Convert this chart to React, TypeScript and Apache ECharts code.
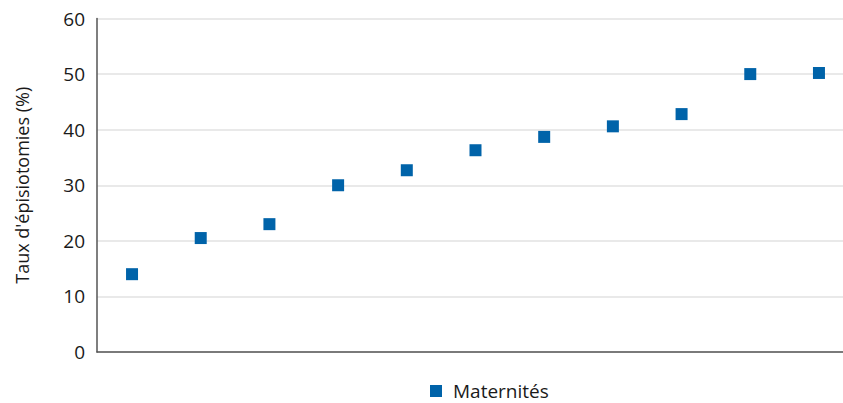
import React, { useEffect, useRef } from "react";
import * as echarts from "echarts";

const maternites: number[] = [1, 2, 3, 4, 5, 6, 7, 8, 9, 10, 11];
const tauxEpisiotomies: number[] = [14.0, 20.5, 23.0, 30.0, 32.7, 36.3, 38.7, 40.6, 42.8, 50.0, 50.2];
const yTicks: number[] = [0, 10, 20, 30, 40, 50, 60];
const seriesName = "Maternités";
const yAxisName = "Taux d'épisiotomies (%)";

export default function App() {
  const ref = useRef<HTMLDivElement>(null);
  useEffect(() => {
    document.body.style.margin = "0";
    const chart = echarts.init(ref.current!, null, { renderer: "svg" });
    const font = "'Open Sans', 'Noto Sans', sans-serif";
    chart.setOption({
      animation: false,
      backgroundColor: "#ffffff",
      grid: { left: 97, right: 0, top: 18.5, bottom: 51, containLabel: false },
      legend: {
        left: 430,
        top: 381,
        padding: 0,
        itemWidth: 12,
        itemHeight: 12,
        icon: "rect",
        data: [seriesName],
        itemStyle: { opacity: 1 },
        textStyle: { fontFamily: font, fontSize: 19, lineHeight: 20, color: "#1a1a1a", padding: [0, 0, 0, 6] },
      },
      xAxis: {
        type: "value",
        min: 0.49,
        max: 11.35,
        axisLine: { show: true, lineStyle: { color: "#555", width: 1.5 } },
        axisTick: { show: false },
        axisLabel: { show: false },
        splitLine: { show: false },
      },
      yAxis: {
        type: "value",
        min: yTicks[0],
        max: yTicks[yTicks.length - 1],
        interval: 10,
        name: yAxisName,
        nameLocation: "middle",
        nameGap: 66,
        nameTextStyle: { fontFamily: font, fontSize: 18, color: "#1a1a1a" },
        axisLine: { show: true, lineStyle: { color: "#555", width: 1.5 } },
        axisTick: { show: false },
        axisLabel: { fontFamily: font, fontSize: 19, color: "#1a1a1a", margin: 12 },
        splitLine: { show: true, lineStyle: { color: "#e2e2e2", width: 1.5 } },
      },
      series: [
        {
          name: seriesName,
          type: "scatter",
          symbol: "rect",
          symbolSize: 12,
          itemStyle: { color: "#0063a9", opacity: 1 },
          data: maternites.map((m, i) => [m, tauxEpisiotomies[i]]),
        },
      ],
    });
    return () => chart.dispose();
  }, []);
  return <div ref={ref} style={{ width: 843, height: 403 }} />;
}
